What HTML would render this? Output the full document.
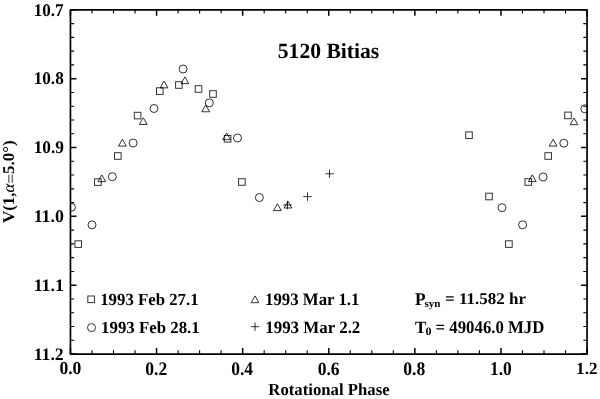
<!DOCTYPE html>
<html><head><meta charset="utf-8"><style>
html,body{margin:0;padding:0;background:#fff;}
svg{display:block;will-change:transform;}
text{font-family:"Liberation Serif",serif;font-weight:bold;text-rendering:geometricPrecision;}
</style></head><body>
<svg width="600" height="399" viewBox="0 0 600 399">
<rect x="0" y="0" width="600" height="399" fill="#fff"/>
<clipPath id="c"><rect x="70.45" y="9.85" width="516.60" height="344.20"/></clipPath>
<g clip-path="url(#c)" fill="none" stroke="#000" stroke-width="1.0" stroke-opacity="0.8"><rect x="74.90" y="240.80" width="6.6" height="6.6"/><rect x="94.60" y="178.80" width="6.6" height="6.6"/><rect x="114.50" y="152.70" width="6.6" height="6.6"/><rect x="134.30" y="112.30" width="6.6" height="6.6"/><rect x="156.50" y="87.80" width="6.6" height="6.6"/><rect x="175.60" y="81.70" width="6.6" height="6.6"/><rect x="195.20" y="85.70" width="6.6" height="6.6"/><rect x="209.70" y="90.70" width="6.6" height="6.6"/><rect x="224.30" y="135.50" width="6.6" height="6.6"/><rect x="238.60" y="178.70" width="6.6" height="6.6"/><rect x="465.70" y="131.90" width="6.6" height="6.6"/><rect x="485.70" y="193.20" width="6.6" height="6.6"/><rect x="505.60" y="240.80" width="6.6" height="6.6"/><rect x="525.00" y="178.70" width="6.6" height="6.6"/><rect x="544.90" y="152.70" width="6.6" height="6.6"/><rect x="564.70" y="112.10" width="6.6" height="6.6"/><circle cx="71.40" cy="207.30" r="4.0"/><circle cx="92.00" cy="224.90" r="4.0"/><circle cx="112.30" cy="176.70" r="4.0"/><circle cx="133.10" cy="143.00" r="4.0"/><circle cx="154.00" cy="108.50" r="4.0"/><circle cx="183.10" cy="69.00" r="4.0"/><circle cx="209.30" cy="102.90" r="4.0"/><circle cx="237.50" cy="138.00" r="4.0"/><circle cx="259.40" cy="197.60" r="4.0"/><circle cx="502.00" cy="207.70" r="4.0"/><circle cx="522.60" cy="224.80" r="4.0"/><circle cx="543.10" cy="177.00" r="4.0"/><circle cx="563.80" cy="143.20" r="4.0"/><circle cx="584.80" cy="108.80" r="4.0"/><path d="M101.80,174.92L105.70,181.68L97.90,181.68Z"/><path d="M122.40,139.32L126.30,146.08L118.50,146.08Z"/><path d="M143.30,117.72L147.20,124.48L139.40,124.48Z"/><path d="M164.00,81.12L167.90,87.88L160.10,87.88Z"/><path d="M184.90,76.92L188.80,83.68L181.00,83.68Z"/><path d="M205.70,105.02L209.60,111.78L201.80,111.78Z"/><path d="M226.60,132.92L230.50,139.68L222.70,139.68Z"/><path d="M277.40,203.82L281.30,210.58L273.50,210.58Z"/><path d="M288.00,201.22L291.90,207.98L284.10,207.98Z"/><path d="M532.30,174.82L536.20,181.58L528.40,181.58Z"/><path d="M553.10,139.32L557.00,146.08L549.20,146.08Z"/><path d="M574.00,117.92L577.90,124.68L570.10,124.68Z"/><path d="M283.30,205.00H291.70M287.50,200.80V209.20"/><path d="M303.30,196.60H311.70M307.50,192.40V200.80"/><path d="M325.30,173.80H333.70M329.50,169.60V178.00"/></g>
<path d="M70.45,9.85h6.0M587.05,9.85h-6.0M70.45,78.69h6.0M587.05,78.69h-6.0M70.45,147.53h6.0M587.05,147.53h-6.0M70.45,216.37h6.0M587.05,216.37h-6.0M70.45,285.21h6.0M587.05,285.21h-6.0M70.45,354.05h6.0M587.05,354.05h-6.0M70.45,354.05v-6.0M70.45,9.85v6.0M156.55,354.05v-6.0M156.55,9.85v6.0M242.65,354.05v-6.0M242.65,9.85v6.0M328.75,354.05v-6.0M328.75,9.85v6.0M414.85,354.05v-6.0M414.85,9.85v6.0M500.95,354.05v-6.0M500.95,9.85v6.0M587.05,354.05v-6.0M587.05,9.85v6.0" stroke="#000" stroke-width="1.5" fill="none"/>
<path d="M70.45,23.62h3.7M587.05,23.62h-3.7M70.45,37.39h3.7M587.05,37.39h-3.7M70.45,51.15h3.7M587.05,51.15h-3.7M70.45,64.92h3.7M587.05,64.92h-3.7M70.45,92.46h3.7M587.05,92.46h-3.7M70.45,106.23h3.7M587.05,106.23h-3.7M70.45,119.99h3.7M587.05,119.99h-3.7M70.45,133.76h3.7M587.05,133.76h-3.7M70.45,161.30h3.7M587.05,161.30h-3.7M70.45,175.07h3.7M587.05,175.07h-3.7M70.45,188.83h3.7M587.05,188.83h-3.7M70.45,202.60h3.7M587.05,202.60h-3.7M70.45,230.14h3.7M587.05,230.14h-3.7M70.45,243.91h3.7M587.05,243.91h-3.7M70.45,257.67h3.7M587.05,257.67h-3.7M70.45,271.44h3.7M587.05,271.44h-3.7M70.45,298.98h3.7M587.05,298.98h-3.7M70.45,312.75h3.7M587.05,312.75h-3.7M70.45,326.51h3.7M587.05,326.51h-3.7M70.45,340.28h3.7M587.05,340.28h-3.7M91.98,354.05v-3.7M91.98,9.85v3.7M113.50,354.05v-3.7M113.50,9.85v3.7M135.03,354.05v-3.7M135.03,9.85v3.7M178.07,354.05v-3.7M178.07,9.85v3.7M199.60,354.05v-3.7M199.60,9.85v3.7M221.12,354.05v-3.7M221.12,9.85v3.7M264.18,354.05v-3.7M264.18,9.85v3.7M285.70,354.05v-3.7M285.70,9.85v3.7M307.23,354.05v-3.7M307.23,9.85v3.7M350.27,354.05v-3.7M350.27,9.85v3.7M371.80,354.05v-3.7M371.80,9.85v3.7M393.32,354.05v-3.7M393.32,9.85v3.7M436.38,354.05v-3.7M436.38,9.85v3.7M457.90,354.05v-3.7M457.90,9.85v3.7M479.43,354.05v-3.7M479.43,9.85v3.7M522.48,354.05v-3.7M522.48,9.85v3.7M544.00,354.05v-3.7M544.00,9.85v3.7M565.53,354.05v-3.7M565.53,9.85v3.7" stroke="#000" stroke-width="1.1" fill="none"/>
<rect x="70.45" y="9.85" width="516.60" height="344.20" fill="none" stroke="#000" stroke-width="1.7" stroke-linejoin="round"/>
<g font-family="Liberation Serif" font-weight="bold" fill="#000"><text transform="translate(33.69,15.89) scale(1.0036,1.0526)" font-size="17">10.7</text><text transform="translate(33.68,84.29) scale(1.0108,1.0526)" font-size="17">10.8</text><text transform="translate(33.67,153.29) scale(1.0181,1.0526)" font-size="17">10.9</text><text transform="translate(33.63,222.29) scale(1.0522,1.0526)" font-size="17">11.0</text><text transform="translate(33.63,291.09) scale(1.0528,1.0351)" font-size="17">11.1</text><text transform="translate(33.64,359.69) scale(1.0449,1.0263)" font-size="17">11.2</text><text transform="translate(59.38,374.48) scale(1.0350,1.0877)" font-size="17">0.0</text><text transform="translate(145.28,374.67) scale(1.0302,1.1316)" font-size="17">0.2</text><text transform="translate(231.29,374.67) scale(1.0246,1.1316)" font-size="17">0.4</text><text transform="translate(317.68,374.68) scale(1.0348,1.1053)" font-size="17">0.6</text><text transform="translate(403.28,374.67) scale(1.0348,1.1316)" font-size="17">0.8</text><text transform="translate(489.97,374.97) scale(1.0208,1.1579)" font-size="17">1.0</text><text transform="translate(576.09,374.10) scale(1.0105,1.0000)" font-size="17">1.2</text><text transform="translate(277.81,57.75) scale(1.0286,1.0321)" font-size="21">5120 Bitias</text><text transform="translate(268.30,394.70) scale(0.9845,0.9917)" font-size="17">Rotational Phase</text><text transform="translate(100.22,304.60) scale(0.9866,1.0000)" font-size="17">1993 Feb 27.1</text><text transform="translate(101.11,332.60) scale(0.9897,0.9917)" font-size="17">1993 Feb 28.1</text><text transform="translate(265.02,304.59) scale(0.9882,1.0263)" font-size="17">1993 Mar 1.1</text><text transform="translate(265.21,332.60) scale(0.9957,1.0175)" font-size="17">1993 Mar 2.2</text><text transform="translate(414.99,304.51) scale(1.0208,1.0545)" font-size="17">P</text><text transform="translate(424.47,306.80) scale(0.9226,0.9037)" font-size="12">syn</text><text transform="translate(445.10,304.11) scale(1.0000,0.9667)" font-size="17">= 11.582 hr</text><text transform="translate(414.90,332.70) scale(1.0000,1.0090)" font-size="17">T</text><text transform="translate(425.57,334.67) scale(1.0091,0.9444)" font-size="12">0</text><text transform="translate(435.61,332.59) scale(0.9862,1.0526)" font-size="17">= 49046.0 MJD</text><text transform="translate(14.32,223.10) rotate(-90) scale(0.9966,0.9673)" font-size="17">V(1,<tspan font-weight="normal" font-style="italic">α</tspan><tspan font-weight="normal" dy="1.6">=</tspan><tspan dy="-1.6">5.0°)</tspan></text></g>
<g fill="none" stroke="#000" stroke-width="1.0" stroke-opacity="0.8"><rect x="87.80" y="296.00" width="6.6" height="6.6"/><circle cx="91.5" cy="327.6" r="4.0"/><path d="M255.00,295.92L258.90,302.68L251.10,302.68Z"/><path d="M250.80,326.70H259.20M255.00,322.50V330.90"/></g>
</svg>
</body></html>
